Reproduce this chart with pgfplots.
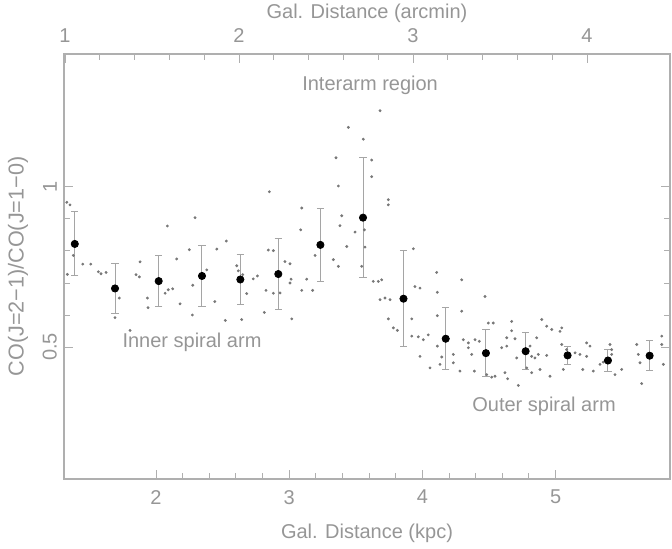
\documentclass[border=0pt]{standalone}
\usepackage{fontspec}
\setmainfont{Liberation Sans}
\usepackage{pgfplots}
\usepackage{pgfplotstable}
\pgfplotsset{compat=1.18}
\definecolor{axgray}{RGB}{175,175,175}
\definecolor{txtgray}{RGB}{150,150,150}
\definecolor{errgray}{RGB}{165,165,165}
\definecolor{dotgray}{RGB}{120,120,120}

\pgfplotstableread{
x y e
1.390 0.822 0.100
1.692 0.683 0.078
2.020 0.706 0.080
2.345 0.722 0.096
2.633 0.711 0.078
2.918 0.728 0.110
3.234 0.819 0.115
3.554 0.904 0.188
3.858 0.651 0.149
4.175 0.526 0.096
4.477 0.481 0.073
4.775 0.487 0.057
5.090 0.474 0.027
5.393 0.458 0.033
5.706 0.473 0.047
}\binned

\pgfplotstableread{
x y
1.330 0.952
1.354 0.944
1.379 0.786
1.334 0.727
1.450 0.759
1.510 0.759
1.567 0.735
1.587 0.729
1.625 0.733
1.724 0.653
1.692 0.592
1.805 0.552
1.880 0.766
1.850 0.726
1.875 0.719
1.935 0.653
1.940 0.623
2.085 0.878
2.155 0.775
2.068 0.668
2.092 0.679
2.125 0.682
2.180 0.635
2.293 0.904
2.250 0.804
2.276 0.693
2.273 0.600
2.381 0.741
2.441 0.642
2.456 0.806
2.528 0.831
2.520 0.583
2.643 0.586
2.606 0.754
2.618 0.738
2.651 0.726
2.681 0.667
2.730 0.713
2.761 0.722
2.851 0.985
2.843 0.803
2.881 0.801
2.826 0.677
2.881 0.668
2.813 0.608
2.968 0.767
3.006 0.760
3.014 0.712
3.006 0.700
2.931 0.669
3.019 0.588
3.094 0.934
3.086 0.866
3.131 0.712
3.094 0.677
3.176 0.677
3.194 0.786
3.331 0.773
3.369 0.752
3.351 1.091
3.369 1.003
3.394 0.910
3.381 0.879
3.432 0.814
3.444 1.186
3.494 0.859
3.556 1.149
3.619 1.084
3.619 1.032
3.564 0.866
3.569 0.812
3.544 0.752
3.631 0.705
3.669 0.705
3.682 1.238
3.744 0.960
3.744 0.944
3.682 0.648
3.757 0.648
3.932 0.807
3.944 0.689
3.982 0.684
3.920 0.588
3.744 0.588
3.782 0.560
3.694 0.710
3.719 0.653
3.812 0.552
3.920 0.534
3.969 0.532
4.007 0.523
4.044 0.538
3.982 0.471
4.107 0.733
4.112 0.671
4.112 0.598
4.112 0.503
4.145 0.469
4.132 0.446
4.057 0.435
4.232 0.477
4.232 0.451
4.295 0.710
4.295 0.612
4.307 0.523
4.345 0.513
4.345 0.498
4.370 0.477
4.282 0.425
4.395 0.523
4.427 0.518
4.390 0.425
4.470 0.658
4.495 0.575
4.532 0.575
4.483 0.414
4.520 0.406
4.545 0.409
4.620 0.420
4.640 0.401
4.595 0.498
4.633 0.503
4.670 0.580
4.670 0.551
4.633 0.529
4.695 0.526
4.708 0.466
4.720 0.380
4.808 0.503
4.820 0.471
4.845 0.466
4.858 0.529
4.896 0.586
4.933 0.565
4.971 0.555
4.783 0.435
4.820 0.420
4.883 0.430
4.958 0.409
4.870 0.477
4.933 0.474
5.046 0.508
5.083 0.492
5.058 0.430
5.146 0.482
5.183 0.477
5.233 0.471
5.258 0.503
5.204 0.430
5.283 0.425
5.333 0.446
5.358 0.453
5.408 0.508
5.421 0.492
5.421 0.477
5.446 0.414
5.496 0.430
5.609 0.508
5.621 0.477
5.634 0.451
5.646 0.386
5.797 0.534
5.797 0.508
5.809 0.446
5.046 0.560
5.033 0.549
5.233 0.513
}\scatterdata

\begin{document}
\begin{tikzpicture}[font=\fontsize{10}{12}\selectfont]
\pgfplotsset{
  common/.style={
    scale only axis, width=303pt, height=212.5pt,
    axis line style={axgray, line width=0.6pt},
    tick style={axgray, line width=0.5pt},
    tick align=inside,
    major tick length=4.5pt, minor tick length=3pt,
    ticklabel style={txtgray},
    label style={txtgray},
    /pgf/number format/assume math mode=true,
  }
}
\begin{axis}[common,
  xmin=1.309, xmax=5.859, ymin=0.088, ymax=1.415,
  xtick={2,3,4,5}, minor x tick num=4,
  ytick={0.5,1}, minor y tick num=4,
  xtick pos=bottom, ytick pos=both, yticklabel pos=left,
  xticklabel style={yshift=-2pt},
  yticklabel style={rotate=90, anchor=south},
  yticklabels={0.5,1},
  xlabel={Gal. Distance (kpc)},
  xlabel style={at={([yshift=-27pt]axis description cs:0.5,0)}, anchor=center},
  ylabel={CO(J=2−1)/CO(J=1−0)},
  ylabel style={at={([xshift=-23pt]axis description cs:0,0.5)}, anchor=center, font=\fontsize{10.8}{12}\selectfont},
]
\addplot[only marks, mark=*, mark size=0.5pt, dotgray] table[x=x,y=y] {\scatterdata};
\addplot[only marks, mark=*, mark size=1.8pt, black,
  error bars/.cd, y dir=both, y explicit,
  error bar style={errgray, line width=0.5pt},
  error mark options={errgray, rotate=90, mark size=1.8pt, line width=0.5pt}]
  table[x=x, y=y, y error=e] {\binned};
\node[txtgray] at (axis cs:3.607,1.318) {Interarm region};
\node[txtgray] at (axis cs:2.27,0.514) {Inner spiral arm};
\node[txtgray] at (axis cs:4.913,0.315) {Outer spiral arm};
\end{axis}
\begin{axis}[common,
  xmin=0.994, xmax=4.477, ymin=0, ymax=1,
  axis x line*=top, axis y line=none,
  xtick={1,2,3,4}, minor x tick num=4,
  xticklabel pos=top,
  xticklabel style={yshift=2pt},
  xlabel={Gal. Distance (arcmin)},
  xlabel style={at={([yshift=20.5pt]axis description cs:0.5,1)}, anchor=center},
]
\end{axis}
\pgfresetboundingbox
\useasboundingbox (-32pt,-34.5pt) rectangle (304pt,239.5pt);
\end{tikzpicture}
\end{document}
